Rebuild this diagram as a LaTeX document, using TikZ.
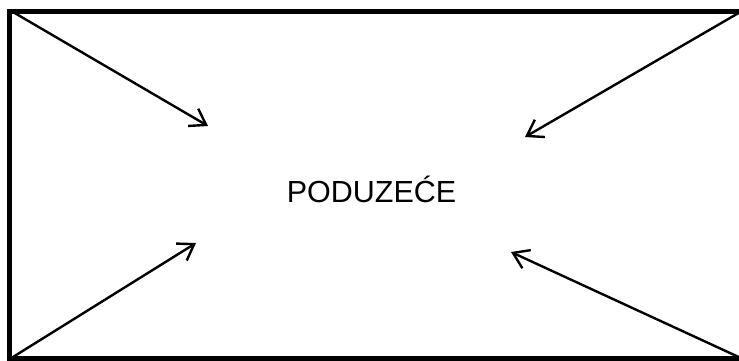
\documentclass[tikz,border=0pt]{standalone}
\usepackage{fontspec}
\setmainfont{Liberation Sans}
\usetikzlibrary{arrows.meta}
\begin{document}
\begin{tikzpicture}[x=1pt,y=-1pt,
  frame/.style={line width=5pt},
  flow/.style={line width=2.4pt,-{Straight Barb[length=15pt,width=20pt,line width=2.4pt]}},
  label/.style={font=\fontsize{30.5}{36}\selectfont,inner sep=0pt,anchor=base}]
\useasboundingbox (0,0) rectangle (739,360);
\clip (0,0) rectangle (739,360);
\fill[white] (0,0) rectangle (739,360);
\draw[frame] (9.5,11) rectangle (760,358);
\node[label] (firm) at (371.5,202) {PODUZEĆE};
\coordinate (tl) at (13,12);
\coordinate (tr) at (742,11);
\coordinate (bl) at (13,357);
\coordinate (br) at (743,359);
\coordinate (tlend) at (208,126);
\coordinate (trend) at (525,137);
\coordinate (blend) at (196,243);
\coordinate (brend) at (511,252);
\draw[flow] (tl) -- (tlend);
\draw[flow] (tr) -- (trend);
\draw[flow] (bl) -- (blend);
\draw[flow] (br) -- (brend);
\end{tikzpicture}
\end{document}
